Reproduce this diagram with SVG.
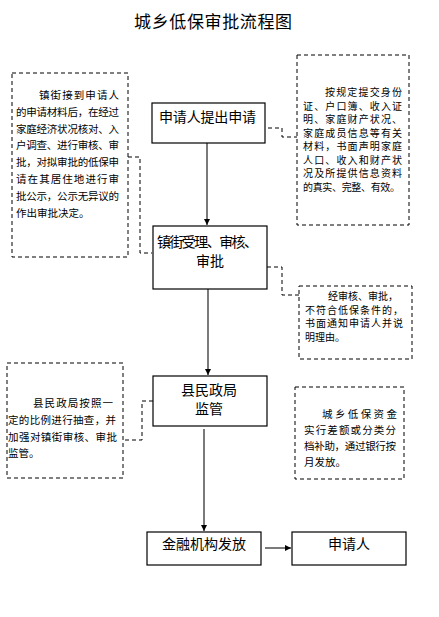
<svg xmlns="http://www.w3.org/2000/svg" width="439" height="617" viewBox="0 0 439 617">
<style>
.box{fill:#fff;stroke:#000;stroke-width:1.2}
.note{fill:none;stroke:#000;stroke-width:1;stroke-dasharray:4 3}
.dash{fill:none;stroke:#000;stroke-width:1;stroke-dasharray:4 3}
.arr{fill:none;stroke:#333;stroke-width:1.3;marker-end:url(#ah)}
.t{font-family:"Noto Sans CJK SC",sans-serif;font-size:14px;fill:#000}
.s{font-family:"Noto Sans CJK SC",sans-serif;font-size:10.5px;fill:#000}
.s2{font-family:"Noto Sans CJK SC",sans-serif;font-size:10px;fill:#000}
.title{font-family:"Noto Sans CJK SC",sans-serif;font-size:17px;fill:#000}
</style>
<defs>
<marker id="ah" markerWidth="8" markerHeight="8" refX="6" refY="3" orient="auto" markerUnits="userSpaceOnUse">
<path d="M0,0 L6,3 L0,6 Z" fill="#000"/>
</marker>
</defs>
<rect width="439" height="617" fill="#fff"/>
<text class="title" x="213" y="28" text-anchor="middle" textLength="158">城乡低保审批流程图</text>

<g id="connectors">
<line class="arr" x1="207" y1="143" x2="207" y2="225"/>
<line class="arr" x1="208" y1="289" x2="208" y2="375"/>
<line class="arr" x1="204" y1="429" x2="204" y2="531"/>
<line class="arr" x1="265" y1="548" x2="291" y2="548"/>
<path class="dash" d="M128,157 H140 V253 H152"/>
<path class="dash" d="M268,128 H282 V137 H297"/>
<path class="dash" d="M267,267 H282 V295 H299"/>
<path class="dash" d="M153,401 H142 V440 H123"/>
</g>

<g id="n1">
<rect class="box" x="152" y="103" width="113" height="40"/>
<text class="t" x="159" y="122" textLength="97">申请人提出申请</text>
</g>
<g id="n2">
<rect class="box" x="153" y="226" width="114" height="63"/>
<text class="t" x="157" y="246.5" textLength="101">镇街受理、审核、</text>
<text class="t" x="210" y="265.5" text-anchor="middle">审批</text>
</g>
<g id="n3">
<rect class="box" x="153" y="376" width="114" height="50"/>
<text class="t" x="209" y="394.5" text-anchor="middle">县民政局</text>
<text class="t" x="209" y="413.5" text-anchor="middle">监管</text>
</g>
<g id="n4">
<rect class="box" x="147" y="532" width="114" height="33"/>
<text class="t" x="204" y="549" text-anchor="middle">金融机构发放</text>
</g>
<g id="n5">
<rect class="box" x="292" y="532" width="114" height="33"/>
<text class="t" x="349" y="549" text-anchor="middle">申请人</text>
</g>

<g id="note1">
<rect class="note" x="12" y="73" width="116" height="184"/>
<text class="s" x="39" y="99" textLength="80">镇街接到申请人</text>
<text class="s" x="16" y="116" textLength="103">的申请材料后，在经过</text>
<text class="s" x="16" y="133" textLength="103">家庭经济状况核对、入</text>
<text class="s" x="16" y="149" textLength="103">户调查、进行审核、审</text>
<text class="s" x="16" y="166" textLength="103">批，对拟审批的低保申</text>
<text class="s" x="16" y="183" textLength="103">请在其居住地进行审</text>
<text class="s" x="16" y="200" textLength="103">批公示，公示无异议的</text>
<text class="s" x="16" y="217">作出审批决定。</text>
</g>
<g id="note2">
<rect class="note" x="297" y="55" width="112" height="170"/>
<text class="s2" x="325" y="96" textLength="77">按规定提交身份</text>
<text class="s2" x="303" y="109.5" textLength="99">证、户口簿、收入证</text>
<text class="s2" x="303" y="123" textLength="99">明、家庭财产状况、</text>
<text class="s2" x="303" y="136.5" textLength="99">家庭成员信息等有关</text>
<text class="s2" x="303" y="150" textLength="99">材料，书面声明家庭</text>
<text class="s2" x="303" y="163.5" textLength="99">人口、收入和财产状</text>
<text class="s2" x="303" y="177" textLength="99">况及所提供信息资料</text>
<text class="s2" x="303" y="190.5" textLength="97">的真实、完整、有效。</text>
</g>
<g id="note3">
<rect class="note" x="299" y="286" width="113" height="73"/>
<text class="s2" x="328" y="300" textLength="70">经审核、审批，</text>
<text class="s2" x="305" y="313.6" textLength="98">不符合低保条件的，</text>
<text class="s2" x="305" y="327.2" textLength="98">书面通知申请人并说</text>
<text class="s2" x="305" y="340.8">明理由。</text>
</g>
<g id="note4">
<rect class="note" x="7" y="363" width="116" height="115"/>
<text class="s" x="33" y="407" textLength="80">县民政局按照一</text>
<text class="s" x="8" y="424" textLength="108">定的比例进行抽查，并</text>
<text class="s" x="8" y="441" textLength="109">加强对镇街审核、审批</text>
<text class="s" x="8" y="457">监管。</text>
</g>
<g id="note5">
<rect class="note" x="295" y="387" width="109" height="92"/>
<text class="s" x="322" y="418" textLength="75">城乡低保资金</text>
<text class="s" x="304" y="434" textLength="92">实行差额或分类分</text>
<text class="s" x="304" y="450" textLength="92">档补助，通过银行按</text>
<text class="s" x="304" y="466">月发放。</text>
</g>
</svg>
